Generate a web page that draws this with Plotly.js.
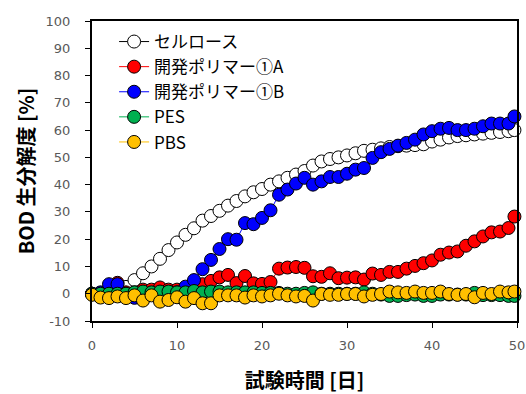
<!DOCTYPE html>
<html>
<head>
<meta charset="utf-8">
<script src="https://cdn.plot.ly/plotly-3.0.1.min.js"></script>
<style>html,body{margin:0;padding:0;background:#fff;}#chart{width:526px;height:394px;}</style>
</head>
<body>
<div id="chart"></div>
<script>
const days = [0,1,2,3,4,5,6,7,8,9,10,11,12,13,14,15,16,17,18,19,20,21,22,23,24,25,26,27,28,29,30,31,32,33,34,35,36,37,38,39,40,41,42,43,44,45,46,47,48,49,49.7];

const cellulose = [0,0,0.5,1,2.5,5,7.5,10,12.8,16,18.8,21.6,24,26.8,28.5,30.4,32.3,34,35.7,37.2,38.4,40,41.2,42.5,43.7,45,47,48.5,49.4,50,50.7,51.5,52.4,52.8,53.3,53.8,54.1,54.3,54.5,54.8,55.8,56.5,57.3,57.8,58.1,58.4,58.7,59,59.3,59.6,60];

const polymerA = [0,0,0.5,4,0.5,0.5,1.5,1.5,2.3,1.5,1.5,1.5,1.5,3.5,4.7,6,6.9,3.9,6.5,3.8,3.6,4.3,9.2,9.6,9.8,9.5,6.4,6.2,7.5,5.7,5.9,6,5.2,7.4,6.9,8,8,9.2,10.2,11.2,12.2,14.3,15.1,15.5,17.6,19.2,21,22.5,22.8,24.1,28.3];

const polymerB = [0,0.5,3.5,3.5,0,-1.5,0,0,0,0.3,0.5,2.6,5,9,12.4,16.4,20,19.8,25.9,25.5,27.8,30.6,36.3,38.2,40.4,42.5,40,41.2,42.8,42.8,44,45.5,46.1,49.8,51.9,53.1,54.3,55.3,56.5,58.4,59.6,60.5,60.8,60,60,60.5,61.4,62.4,62.4,62.4,65];

const pes = [0,0,0,0,0,0.5,0.8,0.5,0.8,0.8,0.5,0.5,1,0.5,0.8,0.8,0.5,0.5,0.5,0.5,0.3,0.3,0.3,0,0,0.3,0.5,0,0,0,0,0,0.5,0,-0.3,-0.8,-0.8,-0.5,-0.3,-0.8,-0.8,-0.3,-0.3,-0.3,-0.3,0.3,-0.5,-0.5,-0.5,-0.8,-0.8];

const pbs = [-0.4,-1.4,-1.6,-1,-1.6,-0.6,-2.5,-0.6,-2.9,-2.3,-1.3,-2.9,-1.6,-3.5,-3.5,-0.6,-0.6,-0.6,-1.4,-0.6,-1,-0.6,0,-0.6,-1,-0.8,-2.5,-0.1,-0.4,-0.4,-0.1,-0.1,-1,-0.4,-0.1,0.8,0.5,0.3,0.8,0.3,0.3,0.8,-0.1,-0.4,-0.1,-1.3,0.3,-0.1,0.8,0.5,0.8];

const seriesNames = ['セルロース','開発ポリマー①A','開発ポリマー①B','PES','PBS'];
const lineColors = ['#000000','#FF0000','#0000FF','#00B050','#FFC000'];
const fillColors = ['#FFFFFF','#FF0000','#0000FF','#00B050','#FFC000'];
const seriesValues = [cellulose, polymerA, polymerB, pes, pbs];

const xTickVals = [0,10,20,30,40,50];
const yTickVals = [-10,0,10,20,30,40,50,60,70,80,90,100];

const traces = seriesValues.map((vals, i) => ({
  x: days,
  y: vals,
  name: seriesNames[i],
  type: 'scatter',
  mode: 'lines+markers',
  line: {color: lineColors[i], width: 1},
  marker: {size: 13, color: fillColors[i], line: {color: '#000000', width: 1}},
  cliponaxis: false
}));

const tickFont = {family: 'DejaVu Sans, Verdana, sans-serif', size: 13, color: '#595959'};
const titleFont = {family: 'Noto Sans CJK JP, sans-serif', size: 20, color: '#000000', weight: 'bold'};

const layout = {
  width: 526,
  height: 394,
  margin: {l: 92, r: 9, t: 21, b: 73},
  paper_bgcolor: '#ffffff',
  plot_bgcolor: '#ffffff',
  showlegend: true,
  legend: {
    x: 0.052, y: 0.99, xanchor: 'left', yanchor: 'top',
    bgcolor: 'rgba(0,0,0,0)',
    font: {family: 'Noto Sans CJK JP, sans-serif', size: 17, color: '#000000'}
  },
  xaxis: {
    range: [0, 50],
    tickvals: xTickVals,
    ticktext: xTickVals.map(String),
    showgrid: false,
    zeroline: false,
    showline: true,
    linecolor: '#000000',
    linewidth: 2,
    mirror: true,
    ticks: 'outside',
    ticklen: 5,
    tickwidth: 1,
    tickcolor: '#000000',
    tickfont: tickFont,
    ticklabelposition: 'outside',
    ticklabelstandoff: 6,
    title: {text: '試験時間 [日]', font: titleFont, standoff: 24}
  },
  yaxis: {
    range: [-10, 100],
    tickvals: yTickVals,
    ticktext: yTickVals.map(String),
    showgrid: false,
    zeroline: false,
    showline: true,
    linecolor: '#000000',
    linewidth: 2,
    mirror: true,
    ticks: 'outside',
    ticklen: 5,
    tickwidth: 1,
    tickcolor: '#000000',
    tickfont: tickFont,
    ticklabelposition: 'outside',
    ticklabelstandoff: 12,
    title: {text: 'BOD 生分解度 [%]', font: titleFont, standoff: 6}
  }
};

Plotly.newPlot('chart', traces, layout, {displayModeBar: false, staticPlot: true});
</script>
</body>
</html>
